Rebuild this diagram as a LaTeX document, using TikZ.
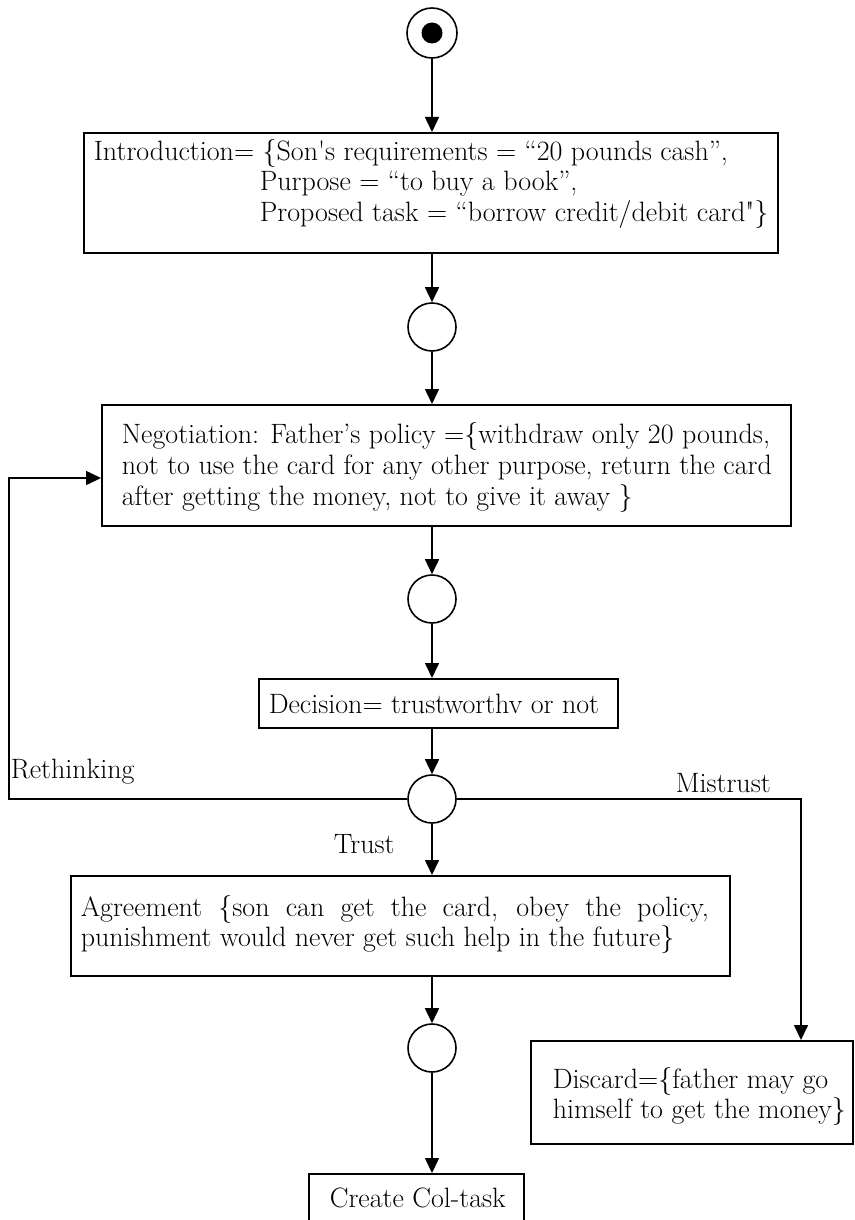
\documentclass[tikz,border=0pt]{standalone}
\usetikzlibrary{arrows.meta}
\begin{document}
\begin{tikzpicture}[x=1pt,y=-1pt,
  line width=1.6pt,
  flow/.style={-{Triangle[length=15pt,width=14pt]}},
  box/.style={draw, rectangle, anchor=north west, inner sep=0pt},
  txt/.style={anchor=base west, inner sep=0pt, font=\fontsize{28}{31}\selectfont},
  state/.style={draw, circle, minimum size=48pt, inner sep=0pt},
]
\useasboundingbox (0,0) rectangle (854,1220);
\clip (0,0) rectangle (854,1220);

% initial state
\node[state, minimum size=50pt] (start) at (432,33) {};
\node[circle, fill, minimum size=21pt, inner sep=0pt] (startdot) at (start.center) {};

% introduction
\node[box, minimum width=694pt, minimum height=120pt] (intro) at (83,132) {};
\node[txt] (intro1) at (93,160) {Introduction= \{Son\textquotesingle s requirements = “20 pounds cash”,};
\node[txt] (intro2) at (259,190) {Purpose = “to buy a book”,};
\node[txt] (intro3) at (259,221) {Proposed task = “borrow credit/debit card\textquotedbl\}};

\node[state] (s2) at (432,327) {};

% negotiation
\node[box, minimum width=689pt, minimum height=121pt] (neg) at (101,404) {};
\node[txt] (neg1) at (121,443) {Negotiation: Father’s policy =\{withdraw only 20 pounds,};
\node[txt] (neg2) at (121,474) {not to use the card for any other purpose, return the card};
\node[txt] (neg3) at (121,505) {after getting the money, not to give it away \}};

\node[state] (s3) at (432,599) {};

% decision
\node[box, minimum width=359pt, minimum height=49pt] (dec) at (258,678) {};
\node[txt] (dec1) at (268,713) {Decision= trustworthv or not};

\node[state] (s4) at (432,799) {};

% agreement
\node[box, minimum width=659pt, minimum height=100pt] (agree) at (70,875) {};
\node[txt] (agree1) at (80,916) {\makebox[628pt][s]{Agreement \{son can get the card, obey the policy,}};
\node[txt] (agree2) at (80,946) {punishment would never get such help in the future\}};

\node[state] (s5) at (432,1048) {};

% discard
\node[box, minimum width=322pt, minimum height=103pt] (disc) at (530,1040) {};
\node[txt] (disc1) at (552,1088) {Discard=\{father may go};
\node[txt] (disc2) at (552,1118) {himself to get the money\}};

% final task
\node[box, minimum width=215pt, minimum height=70pt] (create) at (308,1173) {};
\node[txt] (create1) at (329,1207) {Create Col-task};

% branch labels
\node[txt] (lrethink) at (10,778) {Rethinking};
\node[txt] (lmistrust) at (675,792) {Mistrust};
\node[txt] (ltrust) at (333,853) {Trust};

% connectors
\coordinate (rbot) at (9,799);
\coordinate (rtop) at (9,478);
\coordinate (mcorner) at (801,799);

\draw[flow] (start.south) -- (start.south |- intro.north);
\draw[flow] (s2.north |- intro.south) -- (s2.north);
\draw[flow] (s2.south) -- (s2.south |- neg.north);
\draw[flow] (s3.north |- neg.south) -- (s3.north);
\draw[flow] (s3.south) -- (s3.south |- dec.north);
\draw[flow] (s4.north |- dec.south) -- (s4.north);
\draw[flow] (s4.south) -- (s4.south |- agree.north);
\draw[flow] (s5.north |- agree.south) -- (s5.north);
\draw[flow] (s5.south) -- (s5.south |- create.north);
\draw[flow] (s4.west) -- (rbot) -- (rtop) -- (rtop -| neg.west);
\draw[flow] (s4.east) -- (mcorner) -- (mcorner |- disc.north);
\end{tikzpicture}
\end{document}
